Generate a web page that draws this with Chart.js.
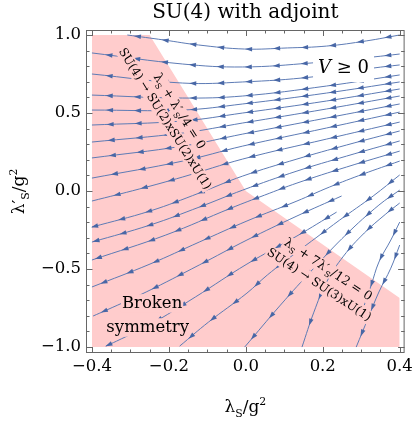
<!DOCTYPE html>
<html>
<head>
<meta charset="utf-8">
<script src="https://cdn.jsdelivr.net/npm/chart.js@4.4.1/dist/chart.umd.min.js"></script>
<style>
  html, body { margin: 0; padding: 0; background: #fff; }
</style>
</head>
<body>
<canvas id="flowChart" width="417" height="422"></canvas>
<script>
// streamlines, each in flow direction: [λS/g², λ'S/g²]
const lineA = [[0.40, 1.0], [0.313, 0.962], [0.21, 0.929], [0.108, 0.917], [-0.003, 0.91], [-0.123, 0.936], [-0.213, 0.968], [-0.308, 1.0]];
const lineB = [[0.40, 0.878], [0.331, 0.859], [0.172, 0.821], [-0.008, 0.795], [-0.164, 0.814], [-0.40, 0.885]];
const lineC = [[0.40, 0.808], [0.331, 0.788], [0.172, 0.731], [-0.008, 0.699], [-0.164, 0.692], [-0.40, 0.75]];
const lineD = [[0.40, 0.744], [0.21, 0.673], [-0.008, 0.609], [-0.164, 0.596], [-0.40, 0.615]];
const lineE = [[0.40, 0.699], [0.21, 0.628], [-0.008, 0.558], [-0.164, 0.519], [-0.40, 0.519]];
const lineF = [[0.40, 0.654], [0.21, 0.577], [-0.008, 0.50], [-0.164, 0.449], [-0.40, 0.423]];
const lineG = [[0.40, 0.609], [0.21, 0.526], [-0.008, 0.436], [-0.164, 0.372], [-0.40, 0.314]];
const lineH = [[0.40, 0.558], [0.21, 0.468], [-0.008, 0.365], [-0.164, 0.288], [-0.40, 0.212]];
const lineI = [[0.40, 0.506], [0.21, 0.404], [-0.008, 0.288], [-0.164, 0.192], [-0.40, 0.083]];
const lineJ = [[0.40, 0.442], [0.21, 0.333], [-0.008, 0.205], [-0.164, 0.09], [-0.277, 0.013], [-0.40, -0.064]];
const lineK = [[0.40, 0.385], [0.262, 0.295], [0.133, 0.205], [-0.008, 0.096], [-0.121, -0.013], [-0.249, -0.128], [-0.40, -0.231]];
const lineL = [[0.40, 0.321], [0.262, 0.224], [0.133, 0.128], [-0.008, 0.006], [-0.121, -0.103], [-0.249, -0.218], [-0.40, -0.327]];
const lineM = [[0.40, 0.256], [0.262, 0.154], [0.133, 0.051], [0.049, -0.026], [-0.038, -0.109], [-0.208, -0.282], [-0.40, -0.442]];
const lineN = [[0.40, 0.192], [0.305, 0.109], [0.218, 0.026], [0.133, -0.064], [0.003, -0.192], [-0.121, -0.327], [-0.249, -0.468], [-0.40, -0.615]];
const lineO = [[0.249, -0.032], [0.133, -0.16], [0.003, -0.314], [-0.121, -0.474], [-0.259, -0.647], [-0.362, -0.763], [-0.397, -0.801]];
const lineP = [[0.236, -0.135], [0.133, -0.288], [0.003, -0.468], [-0.131, -0.679], [-0.251, -0.859], [-0.336, -0.962], [-0.364, -0.994]];
const lineQ = [[0.40, 0.103], [0.331, -0.032], [0.244, -0.186], [0.185, -0.295], [0.133, -0.391], [0.056, -0.538], [0.003, -0.654], [-0.097, -0.84], [-0.172, -0.994]];
const lineR = [[0.40, 0.006], [0.346, -0.09], [0.262, -0.276], [0.177, -0.494], [0.09, -0.731], [-0.003, -1.0]];
const lineS = [[0.40, -0.077], [0.364, -0.147], [0.308, -0.269], [0.254, -0.417], [0.21, -0.583], [0.177, -0.776], [0.146, -1.0]];
const lineT = [[0.40, -0.199], [0.377, -0.314], [0.346, -0.455], [0.326, -0.603], [0.308, -0.731]];
const lineU = [[0.40, -0.346], [0.377, -0.494], [0.346, -0.647], [0.318, -0.814], [0.287, -1.0]];
const streamlines = [lineA, lineB, lineC, lineD, lineE, lineF, lineG, lineH, lineI, lineJ, lineK, lineL,
                     lineM, lineN, lineO, lineP, lineQ, lineR, lineS, lineT, lineU];

// edge of the broken-symmetry region (λS + λ'S/4 = 0, then λS + 7λ'S/12 = 0), filled down to λ'S = -1
const brokenEdge = [[-0.40, 1.0], [-0.25, 1.0], [0.0, 0.0], [0.40, -0.686]];
const brokenFloor = -1.0;

const xMajorTicks = [-0.4, -0.2, 0.0, 0.2, 0.4];
const xTickLabels = ['−0.4', '−0.2', '0.0', '0.2', '0.4'];
const xMinorStep = 0.05;
const yMajorTicks = [-1.0, -0.5, 0.0, 0.5, 1.0];
const yTickLabels = ['−1.0', '−0.5', '0.0', '0.5', '1.0'];
const yMinorStep = 0.1;

const FONT = '"DejaVu Serif", "Liberation Serif", serif';
const LINE_COLOR = '#5d7bb5';
const ARROW_COLOR = '#4867a6';
const PINK = '#ffcccc';
const FRAME_COLOR = '#666666';
const ARROW_STEP = 28;
const ARROW_FIRST = 12;

// text placed in the plot: runs are [text, kind], kind '' | 'sub' | 'sup' | 'it'
const notes = [
  { runs: [['λ'], ['S', 'sub'], [' + λ′'], ['S', 'sub'], ['/4 = 0']], at: [-0.181, 0.498], angle: 58, size: 12.5, bg: PINK, pad: 1 },
  { runs: [['SU(4) → SU(2)xSU(2)xU(1)']], at: [-0.218, 0.451], angle: 58, size: 12, bg: PINK, pad: 1 },
  { runs: [['λ'], ['S', 'sub'], [' + 7λ′'], ['S', 'sub'], ['/12 = 0']], at: [0.2085, -0.522], angle: 33.5, size: 12.5, bg: PINK, pad: 1 },
  { runs: [['SU(4) → SU(3)xU(1)']], at: [0.1854, -0.619], angle: 33.5, size: 12, bg: PINK, pad: 1 },
  { runs: [['V', 'it'], [' ≥ 0']], at: [0.254, 0.756], angle: 0, size: 18, bg: '#ffffff', pad: 5 },
  { runs: [['Broken']], at: [-0.2436, -0.75], angle: 0, size: 16.5, bg: PINK, pad: 1 },
  { runs: [['symmetry']], at: [-0.255, -0.904], angle: 0, size: 16.5, bg: PINK, pad: 1 }
];
const xTitleRuns = [['λ'], ['S', 'sub'], ['/g'], ['2', 'sup']];
const yTitleRuns = [['λ′'], ['S', 'sub'], ['/g'], ['2', 'sup']];

function stepTicks(lo, hi, step) {
  const out = [];
  const n = Math.round((hi - lo) / step);
  for (let i = 0; i <= n; i++) out.push({ value: +(lo + i * step).toFixed(4) });
  return out;
}
function isMajor(v, majors) {
  return majors.some(m => Math.abs(m - v) < 1e-6);
}
function majorLabel(v, majors, labels) {
  const k = majors.findIndex(m => Math.abs(m - v) < 1e-6);
  return k < 0 ? '' : labels[k];
}

function runFont(kind, size) {
  const s = (kind === 'sub' || kind === 'sup') ? size * 0.64 : size;
  return (kind === 'it' ? 'italic ' : '') + s.toFixed(1) + 'px ' + FONT;
}
function runShift(kind, size) {
  if (kind === 'sub') return size * 0.28;
  if (kind === 'sup') return -size * 0.42;
  return 0;
}
function measureRuns(ctx, runs, size) {
  let w = 0;
  runs.forEach(([t, k]) => { ctx.font = runFont(k || '', size); w += ctx.measureText(t).width; });
  return w;
}
// draws runs centred on 0, baseline at 0, in the current transform
function drawRuns(ctx, runs, size, bg, pad) {
  const w = measureRuns(ctx, runs, size);
  if (bg) {
    ctx.fillStyle = bg;
    ctx.fillRect(-w / 2 - pad, -0.78 * size - pad, w + 2 * pad, size + 2 * pad);
  }
  ctx.fillStyle = '#000';
  ctx.textBaseline = 'alphabetic';
  ctx.textAlign = 'left';
  let x = -w / 2;
  runs.forEach(([t, k]) => {
    ctx.font = runFont(k || '', size);
    ctx.fillText(t, x, runShift(k || '', size));
    x += ctx.measureText(t).width;
  });
}

// points of the curve Chart.js actually stroked (its bezier control points)
function samplePath(pts) {
  const out = [];
  for (let i = 0; i < pts.length - 1; i++) {
    const a = pts[i], b = pts[i + 1];
    const c1x = a.cp2x ?? a.x, c1y = a.cp2y ?? a.y;
    const c2x = b.cp1x ?? b.x, c2y = b.cp1y ?? b.y;
    for (let k = (i === 0 ? 0 : 1); k <= 20; k++) {
      const t = k / 20, u = 1 - t;
      out.push({
        x: u * u * u * a.x + 3 * u * u * t * c1x + 3 * u * t * t * c2x + t * t * t * b.x,
        y: u * u * u * a.y + 3 * u * u * t * c1y + 3 * u * t * t * c2y + t * t * t * b.y
      });
    }
  }
  return out;
}

function drawArrow(ctx, x, y, dx, dy) {
  const len = 7, half = 2.3;
  const nx = -dy, ny = dx;
  ctx.beginPath();
  ctx.moveTo(x + dx * len / 2, y + dy * len / 2);
  ctx.lineTo(x - dx * len / 2 + nx * half, y - dy * len / 2 + ny * half);
  ctx.lineTo(x - dx * len / 2 - nx * half, y - dy * len / 2 - ny * half);
  ctx.closePath();
  ctx.fill();
}

const overlayPlugin = {
  id: 'overlay',
  afterDatasetsDraw(chart) {
    const ctx = chart.ctx;
    const { x: xs, y: ys } = chart.scales;
    ctx.save();
    // arrowheads along each streamline
    ctx.fillStyle = ARROW_COLOR;
    chart.data.datasets.forEach((ds, i) => {
      if (!ds.isStream) return;
      const path = samplePath(chart.getDatasetMeta(i).data);
      let s = ARROW_FIRST, run = 0;
      for (let j = 0; j < path.length - 1; j++) {
        const p = path[j], q = path[j + 1];
        const seg = Math.hypot(q.x - p.x, q.y - p.y);
        if (seg === 0) continue;
        while (s <= run + seg) {
          const f = (s - run) / seg;
          drawArrow(ctx, p.x + (q.x - p.x) * f, p.y + (q.y - p.y) * f, (q.x - p.x) / seg, (q.y - p.y) / seg);
          s += ARROW_STEP;
        }
        run += seg;
      }
    });
    // labels, each on its own patch of background
    notes.forEach(n => {
      ctx.save();
      ctx.translate(xs.getPixelForValue(n.at[0]), ys.getPixelForValue(n.at[1]));
      ctx.rotate(n.angle * Math.PI / 180);
      drawRuns(ctx, n.runs, n.size, n.bg, n.pad);
      ctx.restore();
    });
    ctx.restore();
  },
  afterDraw(chart) {
    const ctx = chart.ctx;
    const a = chart.chartArea;
    const { x: xs, y: ys } = chart.scales;
    ctx.save();
    ctx.strokeStyle = FRAME_COLOR;
    ctx.lineWidth = 1;
    ctx.strokeRect(a.left + 0.5, a.top + 0.5, a.right - a.left - 1, a.bottom - a.top - 1);
    // ticks point into the frame, on all four sides
    ctx.beginPath();
    xs.ticks.forEach(t => {
      const px = Math.round(xs.getPixelForValue(t.value)) + 0.5;
      const len = isMajor(t.value, xMajorTicks) ? 6 : 3.5;
      ctx.moveTo(px, a.bottom); ctx.lineTo(px, a.bottom - len);
      ctx.moveTo(px, a.top); ctx.lineTo(px, a.top + len);
    });
    ys.ticks.forEach(t => {
      const py = Math.round(ys.getPixelForValue(t.value)) + 0.5;
      const len = isMajor(t.value, yMajorTicks) ? 6.5 : 3.5;
      ctx.moveTo(a.left, py); ctx.lineTo(a.left + len, py);
      ctx.moveTo(a.right, py); ctx.lineTo(a.right - len, py);
    });
    ctx.stroke();
    // axis titles
    ctx.translate((a.left + a.right) / 2, a.bottom + 59);
    drawRuns(ctx, xTitleRuns, 17, null, 0);
    ctx.setTransform(1, 0, 0, 1, 0, 0);
    ctx.translate(a.left - 62, (a.top + a.bottom) / 2);
    ctx.rotate(-Math.PI / 2);
    drawRuns(ctx, yTitleRuns, 17, null, 0);
    ctx.restore();
  }
};

const toPoints = line => line.map(p => ({ x: p[0], y: p[1] }));

const datasets = streamlines.map(line => ({
  data: toPoints(line),
  isStream: true,
  showLine: true,
  borderColor: LINE_COLOR,
  borderWidth: 1,
  pointRadius: 0,
  tension: 0.4,
  fill: false,
  order: 1
}));
datasets.push({
  data: toPoints(brokenEdge),
  showLine: true,
  borderWidth: 0,
  borderColor: 'rgba(0,0,0,0)',
  backgroundColor: PINK,
  pointRadius: 0,
  tension: 0,
  fill: { value: brokenFloor },
  order: 10
});

new Chart(document.getElementById('flowChart'), {
  type: 'scatter',
  data: { datasets },
  options: {
    responsive: false,
    animation: false,
    devicePixelRatio: 1,
    layout: { padding: { left: 0, right: 8, top: 0, bottom: 0 } },
    plugins: {
      legend: { display: false },
      tooltip: { enabled: false },
      title: {
        display: true,
        fullSize: false,
        text: 'SU(4) with adjoint',
        color: '#000',
        font: { family: FONT, size: 20, weight: 'normal' },
        padding: { top: 1, bottom: 5 }
      }
    },
    scales: {
      x: {
        type: 'linear',
        min: -0.4154,
        max: 0.4128,
        afterBuildTicks: s => { s.ticks = stepTicks(-0.4, 0.4, xMinorStep); },
        afterFit: s => { s.height = 69; },
        grid: { display: false, drawTicks: false },
        border: { display: false },
        ticks: {
          autoSkip: false,
          maxRotation: 0,
          padding: 4,
          color: '#000',
          font: { family: FONT, size: 16.5 },
          callback: v => majorLabel(v, xMajorTicks, xTickLabels)
        }
      },
      y: {
        type: 'linear',
        min: -1.038,
        max: 1.032,
        afterBuildTicks: s => { s.ticks = stepTicks(-1.0, 1.0, yMinorStep); },
        afterFit: s => { s.width = 86; },
        grid: { display: false, drawTicks: false },
        border: { display: false },
        ticks: {
          autoSkip: false,
          padding: 5,
          color: '#000',
          font: { family: FONT, size: 16.5 },
          callback: v => majorLabel(v, yMajorTicks, yTickLabels)
        }
      }
    }
  },
  plugins: [overlayPlugin]
});
</script>
</body>
</html>
